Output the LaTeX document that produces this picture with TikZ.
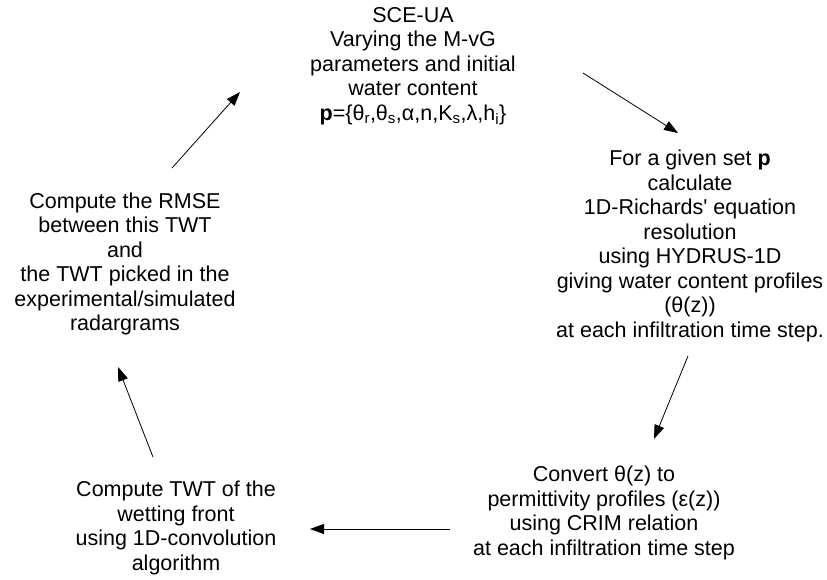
\documentclass[tikz,border=0pt]{standalone}
\usepackage{fontspec}
\setmainfont{Liberation Sans}
\usetikzlibrary{arrows.meta}
\newcommand{\flow}[2]{ \draw[line width=0.8pt,-{Triangle[length=14pt,width=10pt]}] (#1) -- (#2);}

\begin{document}
\begin{tikzpicture}[x=1pt,y=-1pt,
    txt/.style={align=center,inner sep=0pt,font=\fontsize{21.5}{24.5}\selectfont}]
        \useasboundingbox (0,0) rectangle (827,579);

        % the five steps of the loop
        \node[txt] (sce) at (413,66) {SCE-UA\\Varying the M-vG\\parameters and initial\\water content\\
            \textbf{p}=\{θ\textsubscript{r},θ\textsubscript{s},α,n,K\textsubscript{s},λ,h\textsubscript{i}\}};
        \node[txt] (hydrus) at (690,246) {For a given set \textbf{p}\\calculate\\1D-Richards\textquotesingle\ equation\\resolution\\
            using HYDRUS-1D\\giving water content profiles\\(θ(z))\\at each infiltration time step.};
        \node[txt] (crim) at (604,513) {Convert θ(z) to\\permittivity profiles (ε(z))\\using CRIM relation\\at each infiltration time step};
        \node[txt] (twt) at (176,528) {Compute TWT of the\\wetting front\\using 1D-convolution\\algorithm};
        \node[txt] (rmse) at (125,264) {Compute the RMSE\\between this TWT\\and\\the TWT picked in the\\experimental/simulated\\radargrams};

        % arrow ends
        \coordinate (a1s) at (583,73);   \coordinate (a1e) at (678,133);
        \coordinate (a2s) at (688,356);  \coordinate (a2e) at (654,439);
        \coordinate (a3s) at (450,529);  \coordinate (a3e) at (310,529);
        \coordinate (a4s) at (153,457);  \coordinate (a4e) at (118,367);
        \coordinate (a5s) at (172,168);  \coordinate (a5e) at (240,92);

        \flow{a1s}{a1e}
        \flow{a2s}{a2e}
        \flow{a3s}{a3e}
        \flow{a4s}{a4e}
        \flow{a5s}{a5e}
\end{tikzpicture}
\end{document}
